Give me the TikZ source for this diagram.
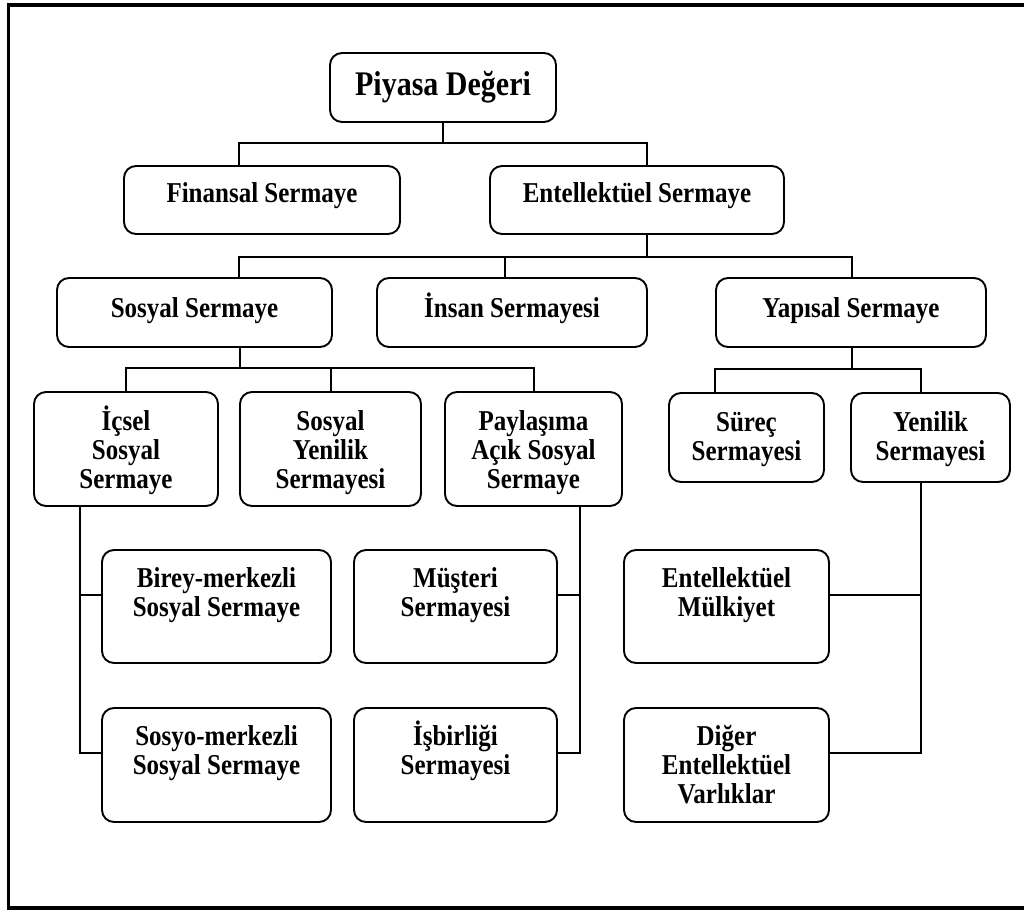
\documentclass[tikz,border=0pt]{standalone}
\usepackage{fontspec}
\setmainfont{Liberation Serif}
\newcommand{\capstrut}{\rule{0pt}{23pt}}
\newcommand{\bigstrut}{\rule{0pt}{26pt}}
\tikzset{
  box/.style={draw, line width=1.9pt, rounded corners=12pt, inner sep=0pt, outer sep=0pt},
  lbl/.style={anchor=north, align=center, inner sep=0pt, transform shape, yscale=1.15,
    font=\fontsize{25}{25.2}\selectfont\bfseries},
  conn/.style={line width=1.6pt, line cap=rect},
}
% box given by its left, right, top and bottom edges (y grows downward)
\newcommand{\cbox}[5]{%
  \node[box, minimum width={#3-#2}, minimum height={#5-#4}]
    (#1) at ({(#2+#3)/2},{(#4+#5)/2}) {};}
\begin{document}
\begin{tikzpicture}[x=1pt,y=-1pt]
\useasboundingbox (0,0) rectangle (1024,912);
\clip (0,0) rectangle (1024,912);
\fill[white] (0,0) rectangle (1024,912);
% outer frame
\draw[line width=3.5pt] (8.5,5) rectangle (1040,908);

% boxes
\cbox{piy}{330}{556}{53}{122}
\cbox{fin}{124}{400}{166}{234}
\cbox{ent}{490}{784}{166}{234}
\cbox{sos}{57}{332}{278}{347}
\cbox{ins}{377}{647}{278}{347}
\cbox{yap}{716}{986}{278}{347}
\cbox{ics}{34}{218}{392}{506}
\cbox{syn}{240}{421}{392}{506}
\cbox{pay}{445}{622}{392}{506}
\cbox{sur}{669}{824}{393}{482}
\cbox{yen}{851}{1010}{393}{482}
\cbox{bir}{102}{331}{550}{663}
\cbox{mus}{354}{557}{550}{663}
\cbox{em}{624}{829}{550}{663}
\cbox{sbm}{102}{331}{708}{822}
\cbox{isb}{354}{557}{708}{822}
\cbox{dig}{624}{829}{708}{822}

% labels (first baseline set by a strut, then scaled 1.15 vertically)
\node[lbl, font=\fontsize{30}{30}\selectfont\bfseries] (piy-t) at ([yshift=-12pt]piy.north) {\bigstrut Piyasa Değeri};
\node[lbl] (fin-t) at ([yshift=-9.5pt]fin.north) {\capstrut Finansal Sermaye};
\node[lbl] (ent-t) at ([yshift=-9.5pt]ent.north) {\capstrut Entellektüel Sermaye};
\node[lbl] (sos-t) at ([yshift=-12.5pt]sos.north) {\capstrut Sosyal Sermaye};
\node[lbl] (ins-t) at ([yshift=-12.5pt]ins.north) {\capstrut İnsan Sermayesi};
\node[lbl] (yap-t) at ([yshift=-12.5pt]yap.north) {\capstrut Yapısal Sermaye};
\node[lbl] (ics-t) at ([yshift=-11.5pt]ics.north) {\capstrut İçsel\\Sosyal\\Sermaye};
\node[lbl] (syn-t) at ([yshift=-11.5pt]syn.north) {\capstrut Sosyal\\Yenilik\\Sermayesi};
\node[lbl] (pay-t) at ([yshift=-11.5pt]pay.north) {\capstrut Paylaşıma\\Açık Sosyal\\Sermaye};
\node[lbl] (sur-t) at ([yshift=-11.5pt]sur.north) {\capstrut Süreç\\Sermayesi};
\node[lbl] (yen-t) at ([yshift=-11.5pt]yen.north) {\capstrut Yenilik\\Sermayesi};
\node[lbl] (bir-t) at ([yshift=-10.5pt]bir.north) {\capstrut Birey-merkezli\\Sosyal Sermaye};
\node[lbl] (mus-t) at ([yshift=-10.5pt]mus.north) {\capstrut Müşteri\\Sermayesi};
\node[lbl] (em-t) at ([yshift=-10.5pt]em.north) {\capstrut Entellektüel\\Mülkiyet};
\node[lbl] (sbm-t) at ([yshift=-10.5pt]sbm.north) {\capstrut Sosyo-merkezli\\Sosyal Sermaye};
\node[lbl] (isb-t) at ([yshift=-10.5pt]isb.north) {\capstrut İşbirliği\\Sermayesi};
\node[lbl] (dig-t) at ([yshift=-10.5pt]dig.north) {\capstrut Diğer\\Entellektüel\\Varlıklar};

% bus junctions
\coordinate (b1l) at (239,143);
\coordinate (b1r) at (647,143);
\coordinate (b2l) at (239,257);
\coordinate (b2m) at (505,257);
\coordinate (b2r) at (852,257);
\coordinate (b3l) at (126,368);
\coordinate (b3m) at (331,368);
\coordinate (b3r) at (534,368);
\coordinate (b3s) at (240,368);
\coordinate (b4l) at (715,369);
\coordinate (b4r) at (921,369);
\coordinate (vl)  at (80,0);
\coordinate (vm)  at (580,0);
\coordinate (vr)  at (921,0);
\coordinate (r1)  at (0,595);
\coordinate (r2)  at (0,753);

% level 1
\draw[conn] (piy.south) -- (piy.south |- b1l);
\draw[conn] (b1l) -- (b1r);
\draw[conn] (b1l) -- (b1l |- fin.north);
\draw[conn] (b1r) -- (b1r |- ent.north);
% level 2
\draw[conn] (b1r |- ent.south) -- (b2l -| b1r);
\draw[conn] (b2l) -- (b2r);
\draw[conn] (b2l) -- (b2l |- sos.north);
\draw[conn] (b2m) -- (b2m |- ins.north);
\draw[conn] (b2r) -- (b2r |- yap.north);
% level 3, social capital
\draw[conn] (b3s |- sos.south) -- (b3s);
\draw[conn] (b3l) -- (b3r);
\draw[conn] (b3l) -- (b3l |- ics.north);
\draw[conn] (b3m) -- (b3m |- syn.north);
\draw[conn] (b3r) -- (b3r |- pay.north);
% level 3, structural capital
\draw[conn] (b2r |- yap.south) -- (b2r |- b4l);
\draw[conn] (b4l) -- (b4r);
\draw[conn] (b4l) -- (b4l |- sur.north);
\draw[conn] (b4r) -- (b4r |- yen.north);
% lower branches
\draw[conn] (vl |- ics.south) -- (vl |- r2) -- (sbm.west |- r2);
\draw[conn] (vl |- r1) -- (bir.west |- r1);
\draw[conn] (vm |- pay.south) -- (vm |- r2) -- (isb.east |- r2);
\draw[conn] (vm |- r1) -- (mus.east |- r1);
\draw[conn] (vr |- yen.south) -- (vr |- r2) -- (dig.east |- r2);
\draw[conn] (vr |- r1) -- (em.east |- r1);
\end{tikzpicture}
\end{document}
